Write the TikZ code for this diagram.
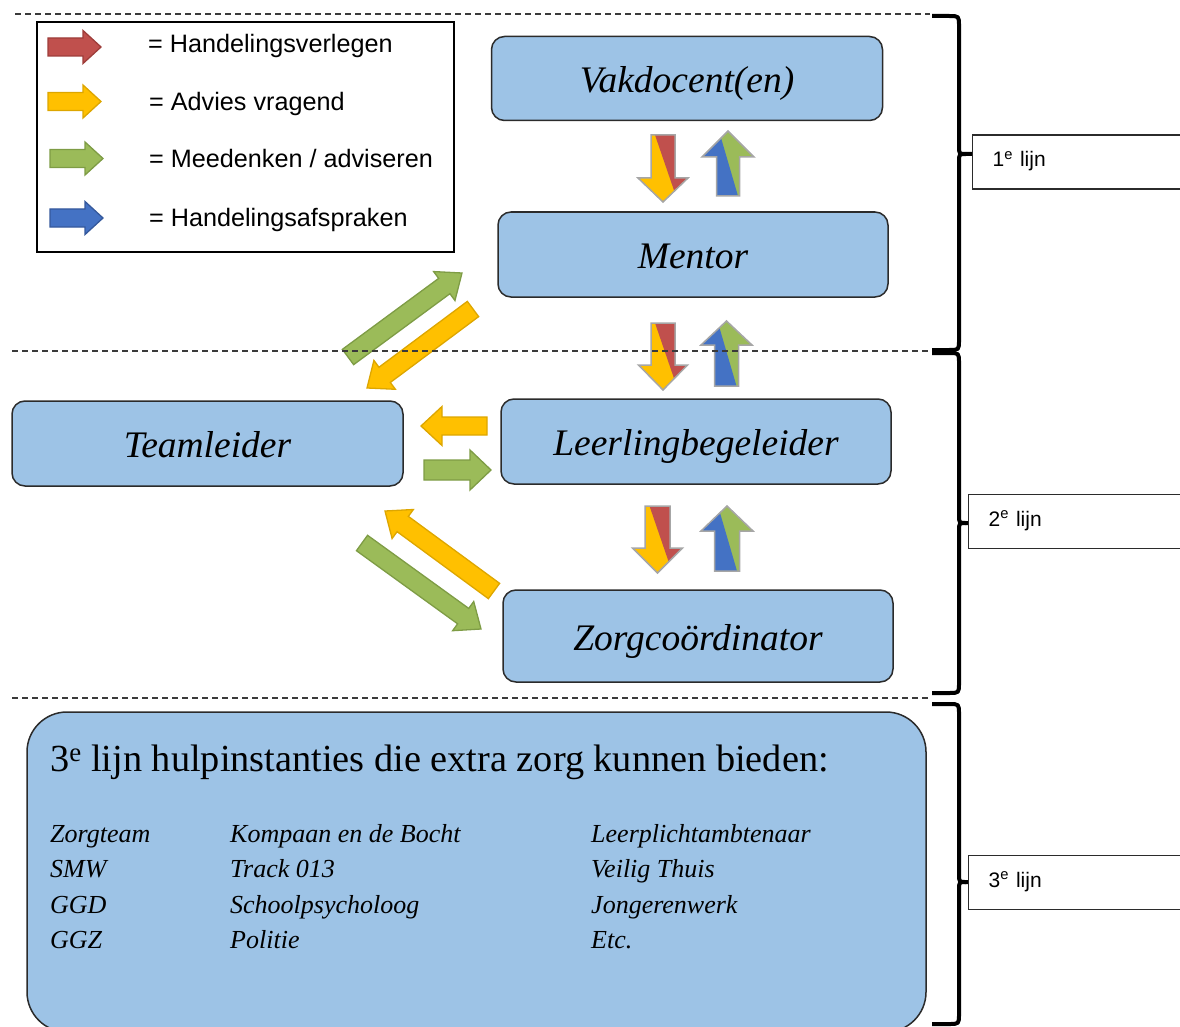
\documentclass[tikz,border=0pt]{standalone}
\usepackage{fontspec}
\setmainfont{Liberation Serif}
\newfontfamily\sansf{Liberation Sans}
\definecolor{cBox}{HTML}{9DC3E6}
\definecolor{cEdge}{HTML}{2B2B2B}
\definecolor{cRed}{HTML}{C0504D}
\definecolor{cRedD}{HTML}{9E3D3A}
\definecolor{cYellow}{HTML}{FFC000}
\definecolor{cYellowD}{HTML}{DDA600}
\definecolor{cGreen}{HTML}{9BBB59}
\definecolor{cGreenD}{HTML}{7E9C45}
\definecolor{cBlue}{HTML}{4472C4}
\definecolor{cBlueD}{HTML}{35599C}
\definecolor{cSplit}{HTML}{A6A6A6}
\definecolor{cDash}{HTML}{3A3A3A}

% single-colour block arrow between two named coordinates
\newcommand\blockarrow[6]{%
  \pgfpointanchor{#1}{center}\pgfgetlastxy{\BAxa}{\BAya}%
  \pgfpointanchor{#2}{center}\pgfgetlastxy{\BAxb}{\BAyb}%
  \pgfmathsetmacro\BAlen{veclen(\BAxb-\BAxa,\BAyb-\BAya)}%
  \pgfmathsetmacro\BAang{atan2(\BAyb-\BAya,\BAxb-\BAxa)}%
  \pgfmathsetmacro\BAneck{\BAlen-#5}%
  \begin{scope}[shift={(#1)},rotate=\BAang,x=1pt,y=1pt]
    \draw[#6] (0,-#3) -- (\BAneck,-#3) -- (\BAneck,-#4) -- (\BAlen,0) -- (\BAneck,#4) -- (\BAneck,#3) -- (0,#3) -- cycle;
  \end{scope}}

% two-colour block arrow: split line from local y #6 (tail) to #7 (tip)
\newcommand\splitarrow[9]{%
  \pgfpointanchor{#1}{center}\pgfgetlastxy{\BAxa}{\BAya}%
  \pgfpointanchor{#2}{center}\pgfgetlastxy{\BAxb}{\BAyb}%
  \pgfmathsetmacro\BAlen{veclen(\BAxb-\BAxa,\BAyb-\BAya)}%
  \pgfmathsetmacro\BAang{atan2(\BAyb-\BAya,\BAxb-\BAxa)}%
  \pgfmathsetmacro\BAneck{\BAlen-#5}%
  \begin{scope}[shift={(#1)},rotate=\BAang,x=1pt,y=1pt]
    \fill[#8] (0,-#3) -- (\BAneck,-#3) -- (\BAneck,-#4) -- (\BAlen,0) -- (\BAneck,#4) -- (\BAneck,#3) -- (0,#3) -- cycle;
    \begin{scope}
      \clip (0,-#3) -- (\BAneck,-#3) -- (\BAneck,-#4) -- (\BAlen,0) -- (\BAneck,#4) -- (\BAneck,#3) -- (0,#3) -- cycle;
      \fill[#9] (0,#6) -- (\BAlen,#7) -- (\BAlen,40) -- (0,40) -- cycle;
    \end{scope}
    \draw[draw=cSplit, line width=1.5pt] (0,-#3) -- (\BAneck,-#3) -- (\BAneck,-#4) -- (\BAlen,0) -- (\BAneck,#4) -- (\BAneck,#3) -- (0,#3) -- cycle;
  \end{scope}}

\newcommand\bracket[4]{%
  \draw[bracepath] (932,#1) -- (949,#1) .. controls (959,#1) .. (959,#1+10) -- (959,#2-8) .. controls (959,#2) .. (966,#2) -- (#4,#2);
  \draw[bracepath] (966,#2) .. controls (959,#2) .. (959,#2+8) -- (959,#3-10) .. controls (959,#3) .. (949,#3) -- (932,#3);}

\begin{document}
\begin{tikzpicture}[x=1pt,y=-1pt,
  box/.style={draw=cEdge, line width=1.5pt, fill=cBox, rounded corners=13pt,
    minimum width=390pt, minimum height=85pt, inner sep=0pt,
    text height=28pt, text depth=0pt, font=\fontsize{37.5}{40}\selectfont\itshape},
  lbl/.style={draw=cEdge, line width=1.3pt, fill=white, anchor=west,
    minimum height=54pt, text width=220pt, inner xsep=20pt, inner ysep=0pt,
    align=left, text height=15pt, text depth=5pt, font=\sansf\fontsize{21}{24}\selectfont},
  legtxt/.style={anchor=base west, inner sep=0pt, font=\sansf\fontsize{25.2}{28}\selectfont},
  item/.style={anchor=base west, inner sep=0pt, font=\fontsize{26}{28}\selectfont\itshape},
  dashline/.style={draw=cDash, line width=1.3pt, dash pattern=on 6pt off 4pt},
  bracepath/.style={draw=black, line width=4pt, line join=round},
  yarrow/.style={fill=cYellow, draw=cYellowD, line width=1.3pt},
  garrow/.style={fill=cGreen, draw=cGreenD, line width=1.3pt},
  rarrow/.style={fill=cRed, draw=cRedD, line width=1.3pt},
  barrow/.style={fill=cBlue, draw=cBlueD, line width=1.3pt}]

\useasboundingbox (0,0) rectangle (1180,1027);
\clip (0,0) rectangle (1180,1027);

% ---------- legend ----------
\node (legend) [draw=black, line width=1.5pt, minimum width=417pt, minimum height=230pt, inner sep=0pt] at (245.5,137) {};
\coordinate (lr1) at (48,47);   \coordinate (lr2) at (101,47);
\coordinate (ly1) at (48,101.5); \coordinate (ly2) at (101,101.5);
\coordinate (lg1) at (50,158.5); \coordinate (lg2) at (103,158.5);
\coordinate (lb1) at (50,218);  \coordinate (lb2) at (103,218);
\blockarrow{lr1}{lr2}{9}{16.5}{18}{rarrow}
\blockarrow{ly1}{ly2}{9}{16.5}{18}{yarrow}
\blockarrow{lg1}{lg2}{9}{16.5}{18}{garrow}
\blockarrow{lb1}{lb2}{9}{16.5}{18}{barrow}
\node (t1) [legtxt] at (148,53) {= Handelingsverlegen};
\node (t2) [legtxt] at (149,111) {= Advies vragend};
\node (t3) [legtxt] at (149,168) {= Meedenken / adviseren};
\node (t4) [legtxt] at (149,226) {= Handelingsafspraken};

% ---------- role boxes ----------
\node (vak)  [box, minimum width=391pt, minimum height=84pt] at (687,78.5) {Vakdocent(en)};
\node (men)  [box] at (693,254.5) {Mentor};
\node (leer) [box] at (696,441.5) {Leerlingbegeleider};
\node (team) [box, minimum width=391pt] at (207.5,443.5) {Teamleider};
\node (zorg) [box, minimum height=92pt] at (698,636) {Zorgcoördinator};

% ---------- vertical split arrows ----------
\coordinate (d1a) at (663,135);   \coordinate (d1b) at (663,202);
\coordinate (u1a) at (728,196);   \coordinate (u1b) at (728,131);
\coordinate (d2a) at (663,323);   \coordinate (d2b) at (663,390);
\coordinate (u2a) at (726.5,386); \coordinate (u2b) at (726.5,321);
\coordinate (d3a) at (657.5,506); \coordinate (d3b) at (657.5,573);
\coordinate (u3a) at (727,571);   \coordinate (u3b) at (727,506);
\splitarrow{d1a}{d1b}{12}{25}{24}{-8}{15}{cYellow}{cRed}
\splitarrow{u1a}{u1b}{11.5}{26}{26}{-10}{9}{cGreen}{cBlue}
\splitarrow{d2a}{d2b}{12}{24.5}{25}{-8}{15}{cYellow}{cRed}
\splitarrow{u2a}{u2b}{12}{25.5}{24}{-10}{9}{cGreen}{cBlue}
\splitarrow{d3a}{d3b}{12.5}{25}{25}{-8}{15}{cYellow}{cRed}
\splitarrow{u3a}{u3b}{12.5}{26}{25}{-10}{9}{cGreen}{cBlue}

% ---------- single colour arrows ----------
\coordinate (g1a) at (348,357); \coordinate (g1b) at (462,273);
\coordinate (y1a) at (473,309); \coordinate (y1b) at (367,388);
\coordinate (y2a) at (487,426); \coordinate (y2b) at (421,426);
\coordinate (g2a) at (424,470); \coordinate (g2b) at (491,470);
\coordinate (y3a) at (494,591); \coordinate (y3b) at (385,511);
\coordinate (g3a) at (362,543); \coordinate (g3b) at (481,629);
\blockarrow{g1a}{g1b}{9.5}{18}{22}{garrow}
\blockarrow{y1a}{y1b}{9.5}{18}{22}{yarrow}
\blockarrow{y2a}{y2b}{9}{19.5}{21}{yarrow}
\blockarrow{g2a}{g2b}{10}{20}{21}{garrow}
\blockarrow{y3a}{y3b}{9.5}{18}{22}{yarrow}
\blockarrow{g3a}{g3b}{9.5}{18}{22}{garrow}

% ---------- third line box ----------
\node (hulp) [draw=cEdge, line width=1.5pt, fill=cBox, rounded corners=40pt,
  minimum width=899pt, minimum height=320pt, inner sep=0pt] at (476.5,872) {};
\node (titel) [anchor=base west, inner sep=0pt, font=\fontsize{38.3}{40}\selectfont] at (50,771)
  {3\textsuperscript{e} lijn hulpinstanties die extra zorg kunnen bieden:};
\node (i11) [item] at (50,842)  {Zorgteam};
\node (i12) [item] at (50,877.5) {SMW};
\node (i13) [item] at (50,913)  {GGD};
\node (i14) [item] at (50,948)  {GGZ};
\node (i21) [item] at (230,842)  {Kompaan en de Bocht};
\node (i22) [item] at (230,877.5) {Track 013};
\node (i23) [item] at (230,913)  {Schoolpsycholoog};
\node (i24) [item] at (230,948)  {Politie};
\node (i31) [item] at (591,842)  {Leerplichtambtenaar};
\node (i32) [item] at (591,877.5) {Veilig Thuis};
\node (i33) [item] at (591,913)  {Jongerenwerk};
\node (i34) [item] at (591,948)  {Etc.};

% ---------- dashed separators ----------
\draw[dashline] (15,14) -- (930,14);
\draw[dashline] (12,351) -- (930,351);
\draw[dashline] (12,698) -- (930,698);

% ---------- braces and line labels ----------
\bracket{16}{154}{350}{972}
\bracket{353}{523}{693}{968}
\bracket{704}{882}{1024}{968}
\node (lijn1) [lbl] at (972,162) {1\textsuperscript{e} lijn};
\node (lijn2) [lbl] at (968,521.5) {2\textsuperscript{e} lijn};
\node (lijn3) [lbl] at (968,882.5) {3\textsuperscript{e} lijn};

\end{tikzpicture}
\end{document}
